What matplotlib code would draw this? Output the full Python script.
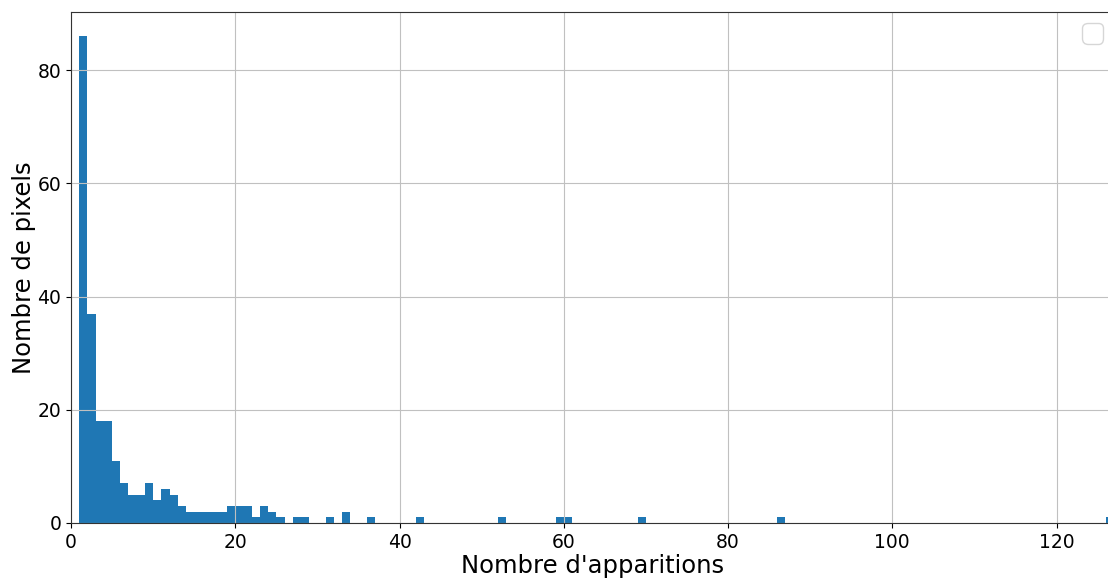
import numpy as np
import matplotlib
matplotlib.use("Agg")
import matplotlib.pyplot as plt

# left edges of the bins (width 1) and number of pixels in each
bin_start = np.arange(1, 127)
counts = np.zeros(126, dtype=int)
known = {
    1: 86, 2: 37, 3: 18, 4: 18, 5: 11, 6: 7, 7: 5, 8: 5, 9: 7, 10: 4,
    11: 6, 12: 5, 13: 3, 14: 2, 15: 2, 16: 2, 17: 2, 18: 2, 19: 3, 20: 3,
    21: 3, 22: 1, 23: 3, 24: 2, 25: 1, 27: 1, 28: 1, 31: 1, 33: 2, 36: 1,
    42: 1, 52: 1, 59: 1, 60: 1, 69: 1, 86: 1, 126: 1,
}
for k, v in known.items():
    counts[k - 1] = v

fig = plt.figure(figsize=(11.08, 5.79), dpi=100)
ax = fig.add_axes([71 / 1108, 56 / 579, 1043 / 1108, 511 / 579])

edges = np.append(bin_start, bin_start[-1] + 1)
ax.hist(bin_start, bins=edges, weights=counts, color="#1f77b4")

ax.set_xlim(0, 127)
ax.set_ylim(0, 90.3)
ax.grid(True, color="#c0c0c0", linewidth=0.8)
ax.tick_params(labelsize=13.5)
ax.set_xlabel("Nombre d'apparitions", fontsize=17.5, labelpad=1.5)
ax.set_ylabel("Nombre de pixels", fontsize=17.5, labelpad=1)
for s in ax.spines.values():
    s.set_color("#333333")
ax.legend(handles=[], loc="upper right", fontsize=19, borderaxespad=0.4)

fig.savefig("out.png", dpi=100)
